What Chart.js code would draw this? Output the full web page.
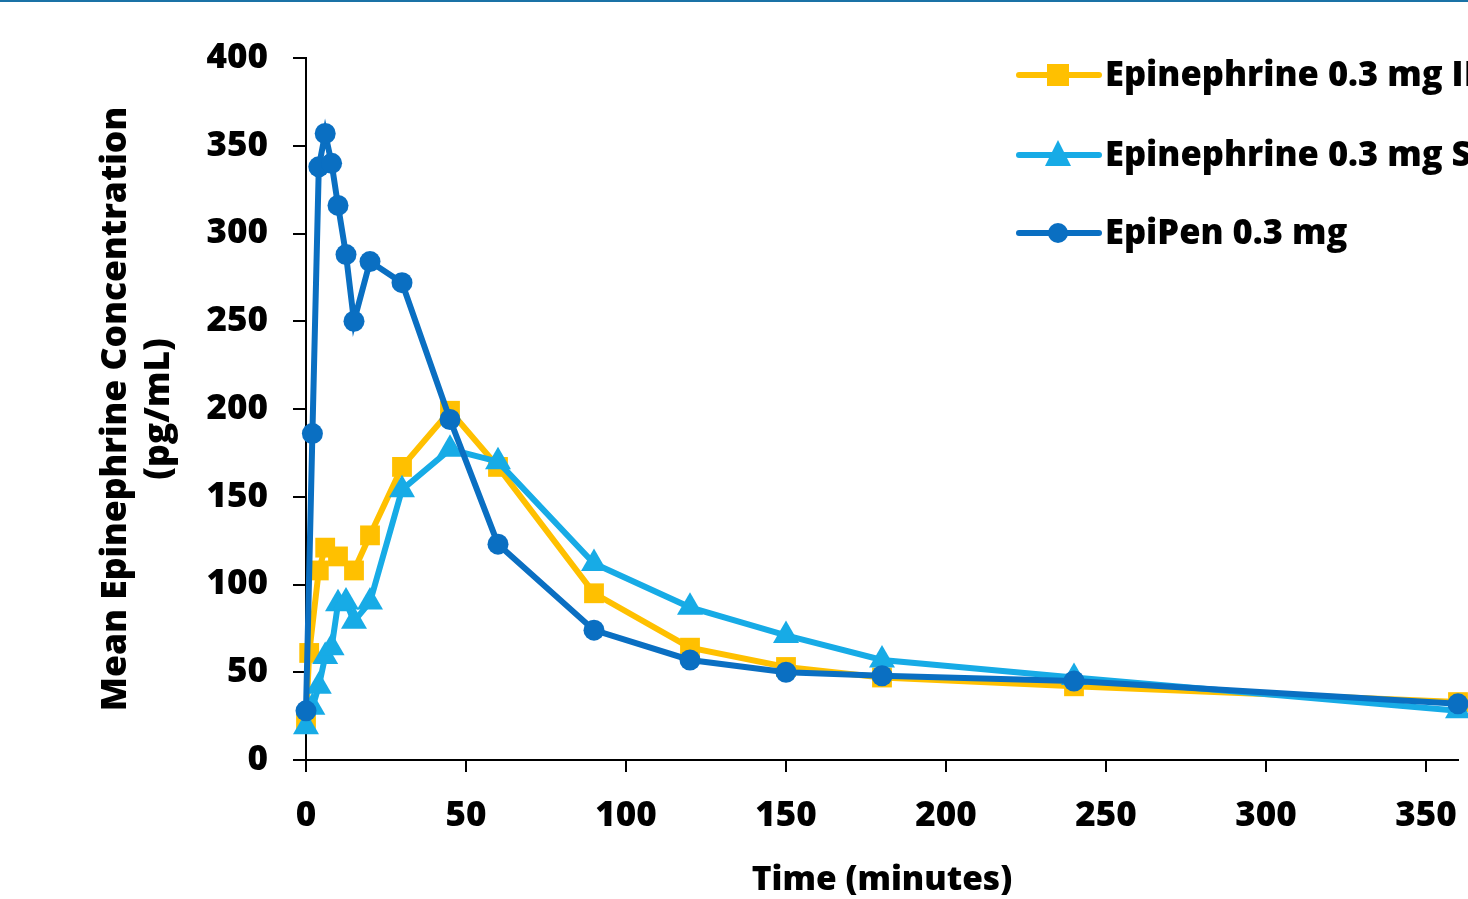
<!DOCTYPE html>
<html>
<head>
<meta charset="utf-8">
<script src="https://cdn.jsdelivr.net/npm/chart.js@4.4.1/dist/chart.umd.min.js"></script>
<style>
  html, body { margin: 0; padding: 0; background: #fff; overflow: hidden; width: 1468px; height: 899px; }
  #topbar { position: absolute; left: 0; top: 0; width: 1468px; height: 2px; background: #1a72a6; z-index: 2; }
  #wrap { position: absolute; left: 0; top: 0; width: 1600px; height: 930px; }
</style>
</head>
<body>
<div id="topbar"></div>
<div id="wrap"><canvas id="c" width="1600" height="930"></canvas></div>
<script>
// ---- data ----
const seriesNames = ["Epinephrine 0.3 mg IM", "Epinephrine 0.3 mg SC", "EpiPen 0.3 mg"];

const imTimes  = [0, 1, 4, 6, 10, 15, 20, 30, 45, 60, 90, 120, 150, 180, 240, 360];
const imValues = [22, 61, 108, 121, 116, 108, 128, 167, 199, 167, 95, 64, 53, 47, 42, 33];

const scTimes  = [0, 2, 4, 6, 8, 10, 12.5, 15, 20, 30, 45, 60, 90, 120, 150, 180, 240, 360];
const scValues = [19, 30, 42, 59, 64, 89, 90, 79, 90, 154, 177, 170, 112, 87, 71, 57, 47, 28];

const epiTimes  = [0, 2, 4, 6, 8, 10, 12.5, 15, 20, 30, 45, 60, 90, 120, 150, 180, 240, 360];
const epiValues = [28, 186, 338, 357, 340, 316, 288, 250, 284, 272, 194, 123, 74, 57, 50, 48, 45, 32];

const xTicks = [0, 50, 100, 150, 200, 250, 300, 350];
const yTicks = [0, 50, 100, 150, 200, 250, 300, 350, 400];

const xTitle = "Time (minutes)";
const yTitle = ["Mean Epinephrine Concentration", "(pg/mL)"];

const colors = ["#FFC000", "#17ABE6", "#0A6FC2"];
const markers = ["rect", "triangle", "circle"];
const markerRadius = [14, 15, 10.5];

function pts(t, v) { return t.map((x, i) => ({ x: x, y: v[i] })); }

const FONT = "'Open Sans', Lato, 'Liberation Sans', sans-serif";

const legendPlugin = {
  id: 'customLegend',
  afterDraw(chart) {
    const ctx = chart.ctx;
    const rows = [75, 155, 233];
    ctx.save();
    seriesNames.forEach((name, i) => {
      const y = rows[i];
      ctx.strokeStyle = colors[i];
      ctx.lineWidth = 6;
      ctx.lineCap = 'round';
      ctx.beginPath();
      ctx.moveTo(1019, y);
      ctx.lineTo(1099, y);
      ctx.stroke();
      ctx.fillStyle = colors[i];
      const cx = 1058;
      if (markers[i] === 'rect') {
        ctx.fillRect(cx - 11, y - 11, 22, 22);
      } else if (markers[i] === 'triangle') {
        ctx.beginPath();
        ctx.moveTo(cx, y - 15);
        ctx.lineTo(cx + 13, y + 11);
        ctx.lineTo(cx - 13, y + 11);
        ctx.closePath();
        ctx.fill();
      } else {
        ctx.beginPath();
        ctx.arc(cx, y, 10, 0, Math.PI * 2);
        ctx.fill();
      }
      ctx.fillStyle = '#000';
      ctx.font = "800 34.5px " + FONT;
      ctx.textAlign = 'left';
      ctx.textBaseline = 'middle';
      ctx.fillText(name, 1105, y + 1);
    });
    ctx.restore();
  }
};

const makeDs = (label, data, i, order) => ({
  label: label,
  data: data,
  borderColor: colors[i],
  backgroundColor: colors[i],
  borderWidth: 6,
  pointStyle: markers[i],
  pointRadius: markerRadius[i],
  pointBorderWidth: 0,
  pointBackgroundColor: colors[i],
  pointHoverRadius: markerRadius[i],
  tension: 0,
  order: order,
  clip: false
});

new Chart(document.getElementById('c'), {
  type: 'line',
  data: {
    datasets: [
      makeDs(seriesNames[0], pts(imTimes, imValues), 0, 3),
      makeDs(seriesNames[1], pts(scTimes, scValues), 1, 2),
      makeDs(seriesNames[2], pts(epiTimes, epiValues), 2, 1)
    ]
  },
  options: {
    responsive: false,
    animation: false,
    events: [],
    layout: { padding: { left: 0, top: 58, right: 142, bottom: 0 } },
    plugins: { legend: { display: false }, tooltip: { enabled: false } },
    scales: {
      x: {
        type: 'linear',
        min: 0, max: 360,
        afterBuildTicks: (s) => { s.ticks = xTicks.map(v => ({ value: v })); },
        afterFit: (s) => { s.height = 170; },
        border: { display: true, color: '#000', width: 2 },
        grid: { display: true, drawOnChartArea: false, drawTicks: true, tickLength: 12, color: '#000', lineWidth: 2 },
        ticks: { color: '#000', padding: 23, maxRotation: 0, font: { family: FONT, size: 35, weight: '800' } },
        title: { display: true, text: xTitle, color: '#000', padding: { top: 0, bottom: 29 }, font: { family: FONT, size: 33.5, weight: '800', lineHeight: 1.2 } }
      },
      y: {
        type: 'linear',
        min: 0, max: 400,
        afterBuildTicks: (s) => { s.ticks = yTicks.map(v => ({ value: v })); },
        afterFit: (s) => { s.width = 306; },
        border: { display: true, color: '#000', width: 2 },
        grid: { display: true, drawOnChartArea: false, drawTicks: true, tickLength: 13, color: '#000', lineWidth: 2 },
        ticks: { color: '#000', padding: 25, font: { family: FONT, size: 35, weight: '800' } },
        title: { display: true, text: yTitle, color: '#000', padding: { top: 95, bottom: 0 }, font: { family: FONT, size: 35.5, weight: '800', lineHeight: 1.2 } }
      }
    }
  },
  plugins: [legendPlugin]
});
</script>
</body>
</html>
